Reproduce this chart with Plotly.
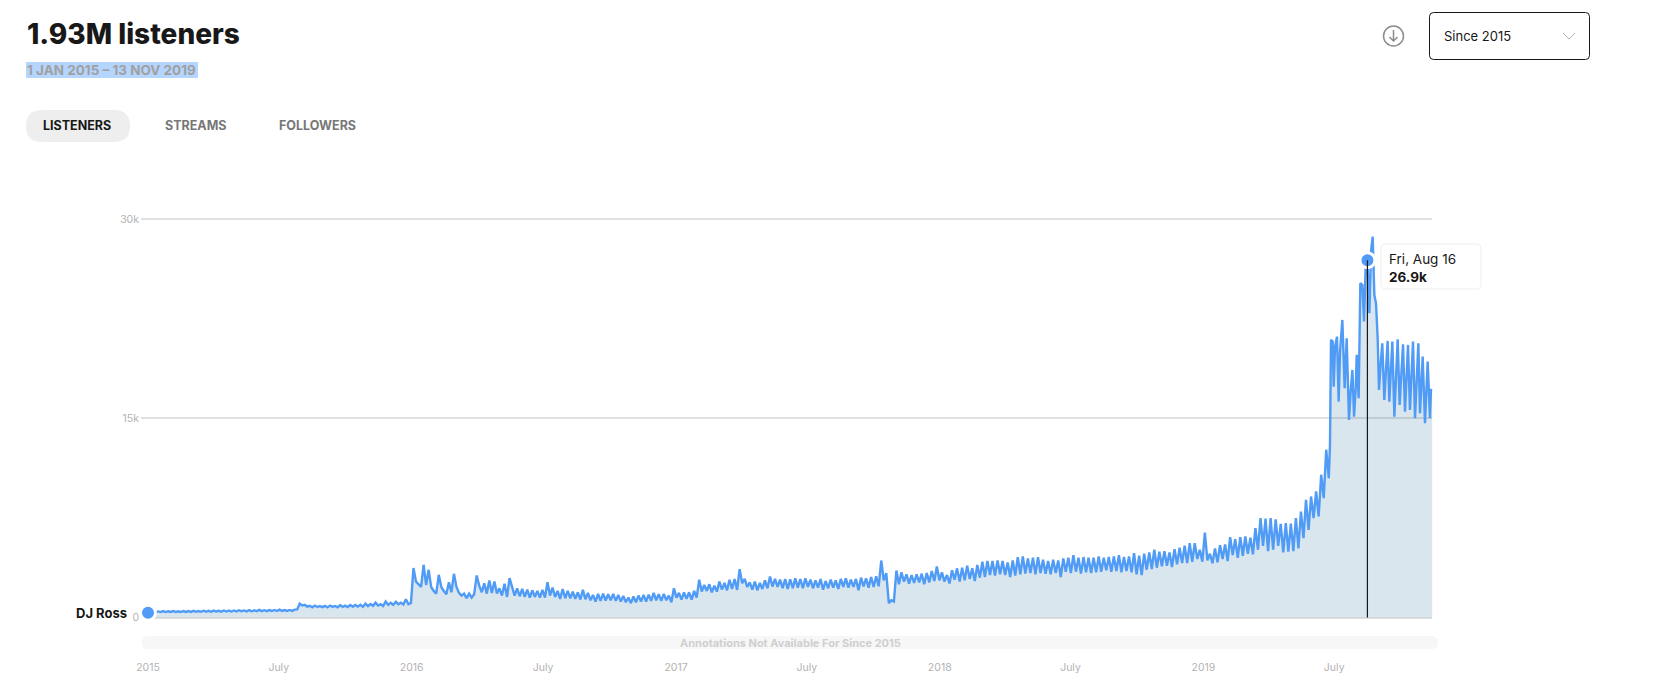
import pandas as pd
import plotly.graph_objects as go

listeners_2015 = [
 360,380, 470,400, 460,410, 480,410, 470,420, 480,420, 470,410, 490,420, 480,420, 500,430,
 490,430, 510,440, 500,430, 520,450, 500,440, 530,450, 520,450, 530,460, 550,470, 530,460,
 560,470, 540,480, 570,480, 550,480, 560,490, 570,490, 590,500, 560,500, 570,500, 590,610,
 1050,900, 950,820, 880,770, 900,790, 860,780, 880,760, 900,800, 870,770, 920,800, 890,790,
 940,810, 950,820, 960,800, 1050,860, 1020,880, 1120,900, 1000,860, 1210,950, 1100,950, 1180,1000,
 1120,980, 1380,1000]
listeners_2016 = [
 1100,3720, 2700,2500, 2300,3970, 2450,3590, 2300,2000, 1800,3210, 2300,2000, 1750,2660, 1900,3290, 2300,1850,
 1650,1800, 1450,1800, 1500,1750, 3160,2400, 1900,2580, 1800,2790, 1850,2710, 1800,2200, 1650,2535, 1550,2960,
 2350,1650, 2200,1600, 2150,1550, 2100,1500, 2050,1550, 2000,1500, 2080,1500, 2660,1650, 2250,1550, 2000,1400,
 2150,1450, 2000,1450, 1950,1400, 1900,1350, 2080,1380, 1850,1300, 1700,1200, 1780,1250, 1800,1280, 1750,1300,
 1780,1250, 1700,1200, 1620,1150, 1500,1080, 1580,1150, 1650,1200, 1700,1200, 1720,1250, 1850,1300, 1750,1250,
 1780,1300, 1650,1150]
listeners_2017 = [
 2200,1500, 1850,1350, 1880,1400, 1900,1350, 2000,1500, 2840,1960, 2450,2000, 2500,1900, 2400,1950, 2700,2100,
 2600,2050, 2840,2150, 2900,2080, 3640,2580, 2900,2300, 2650,2100, 2700,2050, 2600,2150, 2800,2200, 3090,2330,
 2900,2300, 2850,2200, 2900,2150, 2880,2200, 2950,2250, 2900,2200, 2950,2300, 2850,2200, 2800,2250, 2900,2100,
 2750,2200, 2850,2250, 2800,2150, 2900,2300, 2950,2250, 2850,2300, 2900,2050, 3000,2350, 2950,2250, 3050,2300,
 3100,2350, 4290,2800, 3340,1080, 1300,1200, 3540,2500, 3400,2700, 3250,2550, 3200,2600, 3250,2650, 3300,2500,
 3350,2650, 3500,2750]
listeners_2018 = [
 3840,2800, 3400,2700, 3200,2560, 3550,2850, 3700,2700, 3750,2800, 3900,2900, 3700,2750, 3950,3000, 4200,3050,
 4250,3200, 4250,3150, 4300,3250, 4250,3200, 4150,3050, 4300,3150, 4540,3250, 4600,3300, 4450,3350, 4500,3250,
 4550,3350, 4350,3300, 4250,3250, 4350,3350, 4300,3050, 4450,3450, 4500,3350, 4700,3450, 4500,3300, 4550,3400,
 4500,3350, 4500,3400, 4600,3450, 4500,3550, 4550,3450, 4600,3500, 4700,3400, 4550,3500, 4600,3400, 4840,3250,
 4650,3200, 4800,3600, 4900,3650, 5100,3750, 4950,3850, 5000,3900, 4900,3800, 5150,4000, 5250,4100, 5400,4100,
 5600,4200, 5600,4400]
listeners_2019 = [
 5100,4200, 6400,4300, 4800,4090, 5200,4150, 5450,4400, 5500,4250, 6050,4700, 5900,4500, 6050,4650, 6100,4800,
 6000,4750, 6730,5100, 7480,5400, 7450,5000, 7480,5100, 7380,5400, 7050,4900, 7100,4950, 7060,5000, 7480,5200,
 7980,5980, 8860,6600, 9110,7480, 9490,7600, 10750,8990, 12630,10490]
# From the July 2019 jump the curve is read point by point: days since the start, listeners
late_days = [1636.2, 1637.6, 1639.9, 1641.3, 1643.2, 1645.9, 1648.2, 1650.1, 1653.3, 1656.5,
             1659.3, 1662.5, 1664.8, 1667.2, 1669.5, 1671.8, 1673.2, 1675.9, 1678.2, 1681.0,
             1683.3, 1685.6, 1688.0, 1690.7, 1693.0, 1695.3, 1697.6, 1699.9, 1702.2, 1704.0,
             1706.3, 1708.6, 1711.4, 1716.0, 1718.3, 1722.5, 1725.3, 1729.9, 1732.6, 1737.3,
             1740.0, 1744.2, 1746.9, 1751.1, 1753.9, 1758.5, 1760.8, 1764.5, 1767.7, 1771.4,
             1774.6, 1776.0, 1778.0]
late_values = [12990, 20900, 20770, 17380, 20390, 21145, 16250, 20000, 22400, 17255,
               21020, 14870, 17000, 18635, 15120, 17255, 19770, 16500, 25160, 25040,
               22280, 26420, 26900, 22900, 27550, 28675, 24280, 23655, 21020, 17130,
               19010, 20645, 16380, 20820, 16250, 20770, 15120, 20945, 16000, 20570,
               15500, 20520, 15625, 20770, 15000, 20645, 15370, 19640, 14620, 19260,
               15000, 17130, 17100]

early = listeners_2015 + listeners_2016 + listeners_2017 + listeners_2018 + listeners_2019
start_date = "2015-01-01"
sample_step = "84h"
early_dates = pd.date_range(start_date, periods=len(early), freq=sample_step)
late_dates = pd.Timestamp(start_date) + pd.to_timedelta(late_days, unit="D")
dates = early_dates.append(late_dates)
listeners = early + late_values

tick_dates = ["2015-01-01", "2015-07-01", "2016-01-01", "2016-07-01", "2017-01-01",
              "2017-07-01", "2018-01-01", "2018-07-01", "2019-01-01", "2019-07-01"]
tick_labels = ["2015", "July", "2016", "July", "2017", "July", "2018", "July", "2019", "July"]
y_ticks = [0, 15000, 30000]
y_tick_labels = ["0", "15k", "30k"]

first_date, first_value = "2015-01-01", 360
focus_date, focus_value = "2019-08-16", 26900
artist = "DJ Ross"

W, H = 1666, 681
X0, X1 = 141, 1432.4
Y0, Y1 = 619.5, 217
BLUE = "#509BF5"
FONT = "Inter"
px = lambda x: x / W
py = lambda y: 1 - y / H
days_per_px = 1 / 0.7224
x_lo = pd.Timestamp(start_date) - pd.Timedelta(days=(148 - X0) * days_per_px)
x_hi = pd.Timestamp(start_date) + pd.Timedelta(days=(X1 - 148) * days_per_px)

fig = go.Figure()
fig.add_trace(go.Scatter(x=dates, y=listeners, mode="lines", fill="tozeroy",
                         fillcolor="rgba(46,119,159,0.18)",
                         line=dict(color=BLUE, width=2.4), hoverinfo="skip", showlegend=False))
fig.add_trace(go.Scatter(x=[first_date, focus_date], y=[first_value, focus_value], mode="markers",
                         marker=dict(color=BLUE, size=15, line=dict(color="white", width=3)),
                         cliponaxis=False, hoverinfo="skip", showlegend=False))

def rrect(x0, y0, x1, y1, r):
    a, b, c, d = px(x0), py(y0), px(x1), py(y1)
    rx, ry = r / W, r / H
    return (f"M{a+rx},{b} L{c-rx},{b} Q{c},{b} {c},{b-ry} L{c},{d+ry} Q{c},{d} {c-rx},{d} "
            f"L{a+rx},{d} Q{a},{d} {a},{d+ry} L{a},{b-ry} Q{a},{b} {a+rx},{b} Z")

def poly(pts):
    return "M" + " L".join(f"{px(x)},{py(y)}" for x, y in pts)

shapes = [
    dict(type="rect", xref="paper", yref="paper", x0=px(26), x1=px(198), y0=py(62), y1=py(78),
         fillcolor="#B4D5FE", line_width=0, layer="below"),
    dict(type="path", xref="paper", yref="paper", path=rrect(26, 110, 130, 142, 16),
         fillcolor="#EEEEEE", line_width=0, layer="below"),
    dict(type="path", xref="paper", yref="paper", path=rrect(1429.5, 12.5, 1589.5, 59.5, 4),
         fillcolor="white", line=dict(color="#181818", width=1), layer="below"),
    dict(type="path", xref="paper", yref="paper", path=poly([(1563, 33), (1569, 39), (1575, 33)]),
         line=dict(color="#B3B3B3", width=1)),
    dict(type="circle", xref="paper", yref="paper", x0=px(1383.5), x1=px(1403.5), y0=py(26), y1=py(46),
         line=dict(color="#8C8C8C", width=1.5)),
    dict(type="path", xref="paper", yref="paper",
         path=poly([(1393.5, 30), (1393.5, 41)]) + " " + poly([(1389.5, 37), (1393.5, 41), (1397.5, 37)]),
         line=dict(color="#8C8C8C", width=1.5)),
    dict(type="path", xref="paper", yref="paper", path=rrect(142, 636, 1438, 649, 6),
         fillcolor="#F7F7F7", line_width=0, layer="below"),
    dict(type="path", xref="paper", yref="paper", path=rrect(1381, 244, 1481, 289, 5),
         fillcolor="white", line=dict(color="#EEEEEE", width=1)),
    dict(type="line", xref="x", yref="y", x0=focus_date, x1=focus_date, y0=0, y1=focus_value,
         line=dict(color="#181818", width=1.2)),
]

def label(text, x, y, size, color, anchor="left", weight=400):
    return dict(xref="paper", yref="paper", x=px(x), y=py(y), text=text, showarrow=False,
                xanchor=anchor, yanchor="middle",
                font=dict(family=FONT, size=size, color=color, weight=weight))

annotations = [
    label("1.93M listeners", 25, 34, 28, "#181818", weight=800),
    label("1 JAN 2015 – 13 NOV 2019", 25, 70, 13.5, "#A0A0A0", weight=700),
    label("LISTENERS", 41, 125.5, 12.5, "#181818", weight=700),
    label("STREAMS", 163, 125.5, 12.5, "#777777", weight=700),
    label("FOLLOWERS", 277, 125.5, 12.5, "#777777", weight=700),
    label("Since 2015", 1442, 36, 13, "#181818"),
    label("Annotations Not Available For Since 2015", 790, 643, 11, "#CFCFCF", anchor="center", weight=700),
    label("Fri, Aug 16", 1387, 259, 13.5, "#181818"),
    label("26.9k", 1387, 277, 13.5, "#181818", weight=700),
    label(artist, 129, 612.5, 13, "#181818", anchor="right", weight=700),
]

fig.update_layout(
    width=W, height=H, margin=dict(l=0, r=0, t=0, b=0, autoexpand=False),
    paper_bgcolor="white", plot_bgcolor="white", showlegend=False,
    shapes=shapes, annotations=annotations,
    xaxis=dict(domain=[px(X0), px(X1)], range=[x_lo, x_hi], type="date", showgrid=False, zeroline=False,
               showline=False, ticks="", tickmode="array", tickvals=tick_dates, ticktext=tick_labels,
               ticklabelstandoff=40, tickfont=dict(family=FONT, size=10.5, color="#B3B3B3")),
    yaxis=dict(domain=[py(Y0), py(Y1)], range=[-150, 30150], showgrid=True, gridcolor="#E0E0E0", gridwidth=2,
               zeroline=False, showline=False, ticks="", tickmode="array", tickvals=y_ticks, ticktext=y_tick_labels,
               ticklabelstandoff=1, tickfont=dict(family=FONT, size=10.5, color="#B3B3B3")),
)
fig.write_html("out.html", config=dict(displayModeBar=False),
               post_script="document.body.style.margin='0';document.body.style.overflow='hidden';")
